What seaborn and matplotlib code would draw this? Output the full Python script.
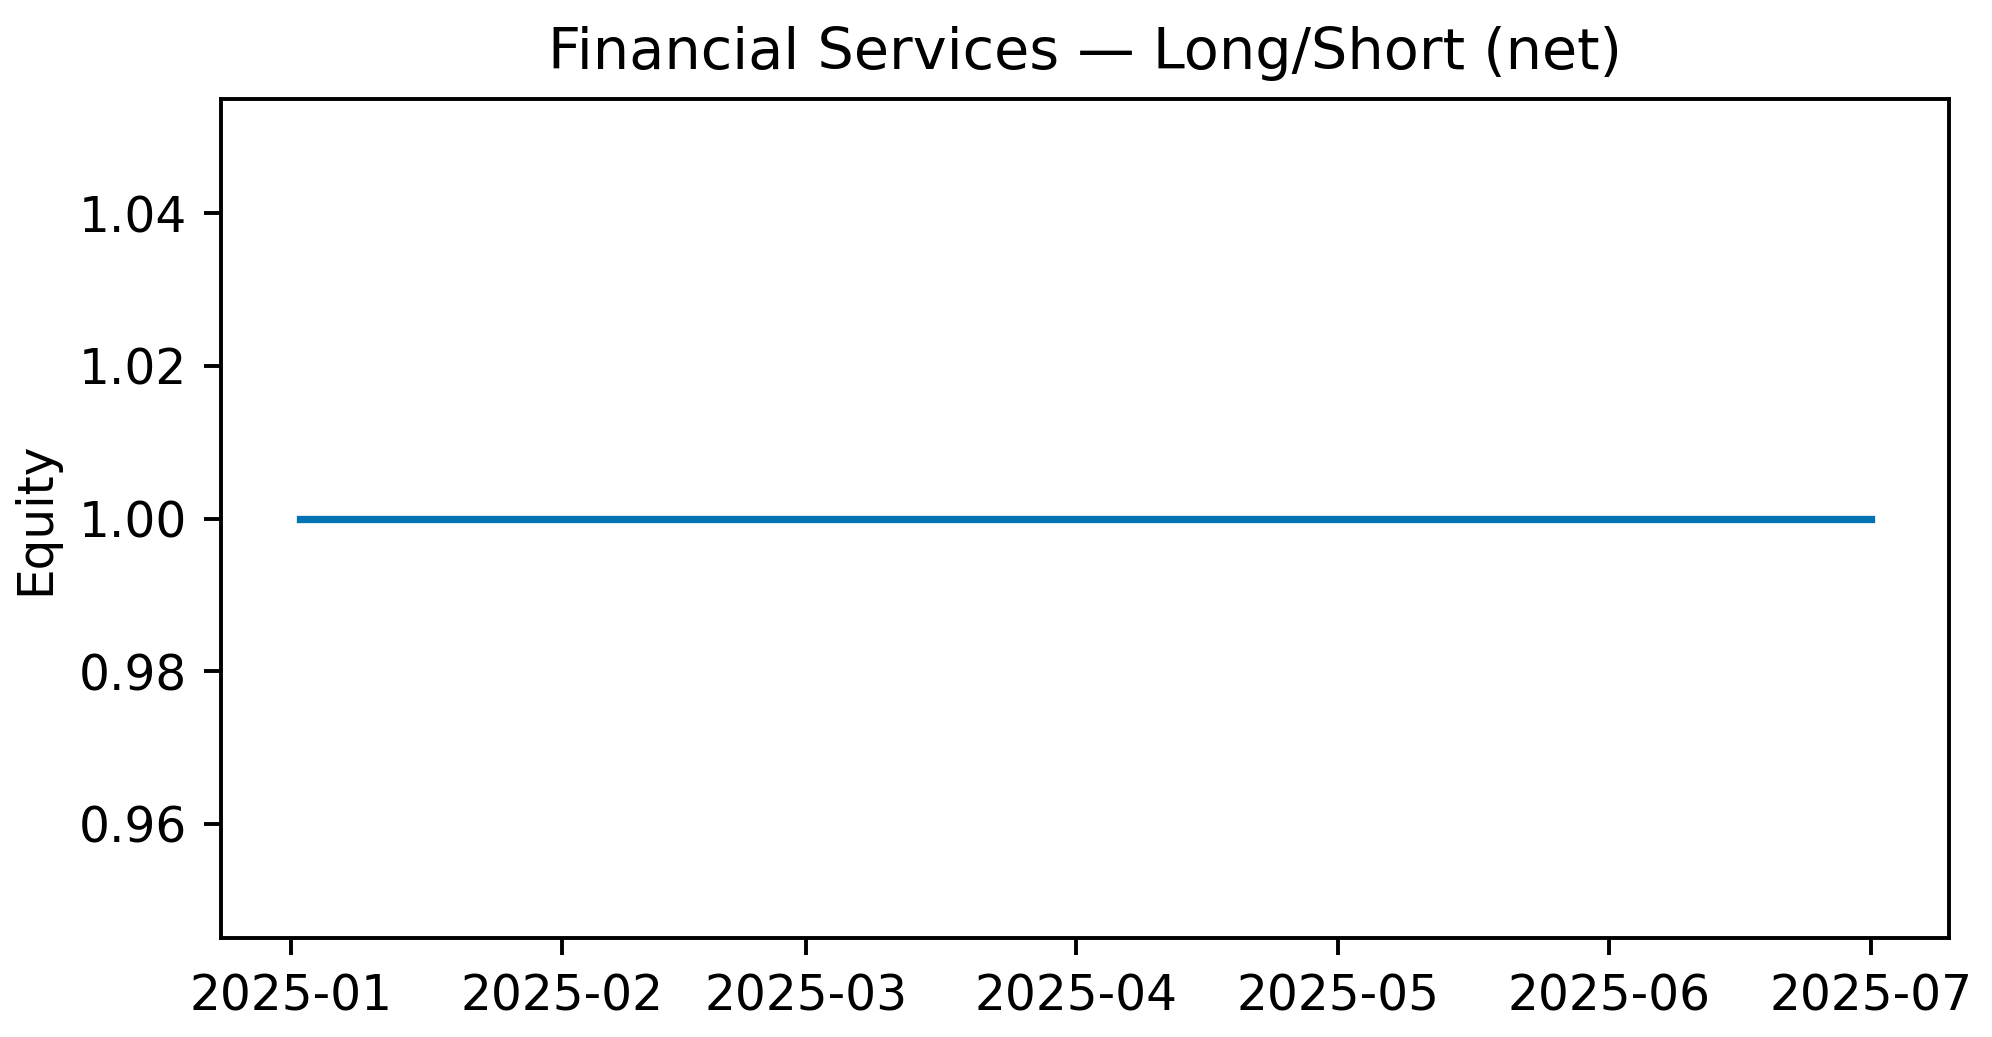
import pandas as pd
import seaborn as sns
import matplotlib
matplotlib.use("Agg")
import matplotlib.pyplot as plt

# equity curve (flat, net of long/short)
dates = ["2025-01-02", "2025-07-01"]
equity = [1.0, 1.0]

df = pd.DataFrame({"date": pd.to_datetime(dates), "equity": equity})

plt.rcParams["font.family"] = ["DejaVu Sans"]

fig, ax = plt.subplots(figsize=(1993 / 350, 1037 / 350), dpi=350)
sns.lineplot(data=df, x="date", y="equity", color="#0173b2", linewidth=1.5, ax=ax)

ax.set_title("Financial Services — Long/Short (net)", fontsize=11.8)
ax.set_xlabel("")
ax.set_ylabel("Equity")
ax.set_xticks(pd.to_datetime(["2025-01-01", "2025-02-01", "2025-03-01", "2025-04-01",
                              "2025-05-01", "2025-06-01", "2025-07-01"]))
ax.set_xticklabels(["2025-01", "2025-02", "2025-03", "2025-04", "2025-05", "2025-06", "2025-07"])
ax.set_ylim(0.945, 1.055)
ax.set_yticks([0.96, 0.98, 1.00, 1.02, 1.04])

fig.subplots_adjust(left=0.111, right=0.978, bottom=0.095, top=0.905)
fig.savefig("out.png", dpi=350)
